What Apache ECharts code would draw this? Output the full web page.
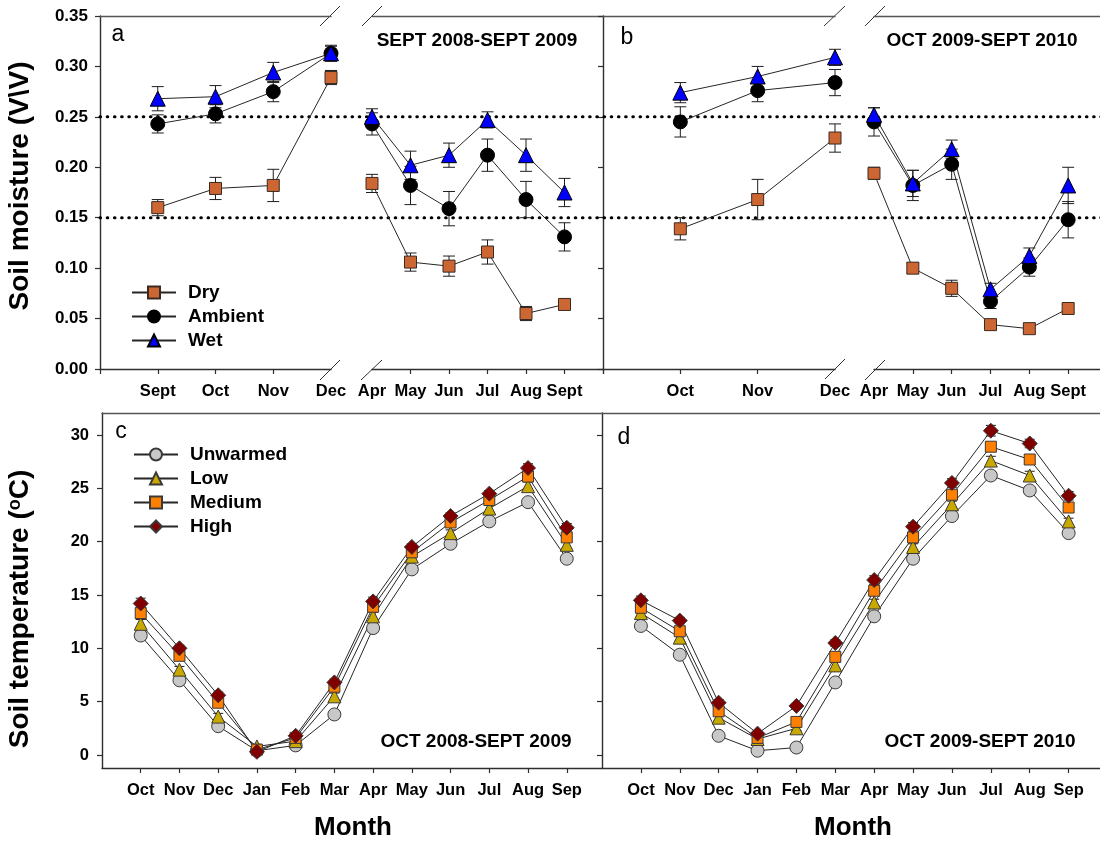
<!DOCTYPE html>
<html>
<head>
<meta charset="utf-8">
<script src="https://cdn.jsdelivr.net/npm/echarts@6.0.0/dist/echarts.min.js"></script>
<style>
  html, body { margin: 0; padding: 0; background: #fff; }
  #chart { width: 1100px; height: 841px; }
</style>
</head>
<body>
<div id="chart"></div>
<script>
// ---------- Soil moisture (V/V), mean and SE ----------
// Panel a, autumn 2008 (left of the winter break) and spring/summer 2009
const moistMonthsA1 = ['Sept', 'Oct', 'Nov', 'Dec'];
const moistMonthsA2 = ['Apr', 'May', 'Jun', 'Jul', 'Aug', 'Sept'];
const dryA1 = [0.160, 0.179, 0.182, 0.289];
const dryA1Se = [0.008, 0.011, 0.016, 0.007];
const ambA1 = [0.243, 0.253, 0.275, 0.313];
const ambA1Se = [0.009, 0.009, 0.010, 0.008];
const wetA1 = [0.268, 0.270, 0.294, 0.313];
const wetA1Se = [0.012, 0.011, 0.010, 0.007];
const dryA2 = [0.184, 0.106, 0.102, 0.116, 0.055, 0.064];
const dryA2Se = [0.009, 0.009, 0.010, 0.012, 0.007, 0.005];
const ambA2 = [0.243, 0.182, 0.159, 0.212, 0.168, 0.131];
const ambA2Se = [0.011, 0.019, 0.017, 0.016, 0.018, 0.014];
const wetA2 = [0.250, 0.202, 0.212, 0.247, 0.212, 0.175];
const wetA2Se = [0.008, 0.014, 0.012, 0.008, 0.016, 0.014];

// Panel b, autumn 2009 and spring/summer 2010
const moistMonthsB1 = ['Oct', 'Nov', 'Dec'];
const moistMonthsB2 = ['Apr', 'May', 'Jun', 'Jul', 'Aug', 'Sept'];
const dryB1 = [0.139, 0.168, 0.229];
const dryB1Se = [0.011, 0.020, 0.014];
const ambB1 = [0.245, 0.276, 0.284];
const ambB1Se = [0.015, 0.011, 0.013];
const wetB1 = [0.274, 0.290, 0.309];
const wetB1Se = [0.010, 0.010, 0.008];
const dryB2 = [0.194, 0.100, 0.080, 0.044, 0.040, 0.060];
const dryB2Se = [0.006, 0.005, 0.008, 0.004, 0.003, 0.004];
const ambB2 = [0.245, 0.182, 0.203, 0.067, 0.101, 0.148];
const ambB2Se = [0.014, 0.015, 0.015, 0.007, 0.009, 0.018];
const wetB2 = [0.252, 0.184, 0.218, 0.079, 0.112, 0.182];
const wetB2Se = [0.007, 0.013, 0.009, 0.006, 0.008, 0.018];

// Dotted reference levels for moisture
const moistRefLevels = [0.25, 0.15];

// ---------- Soil temperature (°C), mean and SE ----------
const tempMonths = ['Oct', 'Nov', 'Dec', 'Jan', 'Feb', 'Mar', 'Apr', 'May', 'Jun', 'Jul', 'Aug', 'Sep'];
const tempTicks = [0, 5, 10, 15, 20, 25, 30];
// Panel c, Oct 2008 - Sept 2009
const unwC = [11.2, 7.0, 2.7, 0.4, 0.9, 3.8, 11.9, 17.4, 19.8, 21.9, 23.7, 18.4];
const lowC = [12.3, 8.0, 3.6, 0.8, 1.3, 5.5, 13.0, 18.6, 20.8, 23.1, 25.2, 19.7];
const medC = [13.3, 9.3, 4.9, 0.5, 1.6, 6.4, 13.9, 19.0, 21.8, 23.9, 26.1, 20.4];
const highC = [14.2, 10.0, 5.6, 0.3, 1.8, 6.8, 14.4, 19.5, 22.4, 24.5, 26.9, 21.3];
const unwCSe = [0.4, 0.3, 0.3, 0.2, 0.2, 0.3, 0.4, 0.3, 0.3, 0.3, 0.3, 0.3];
const lowCSe = [0.4, 0.3, 0.3, 0.2, 0.2, 0.3, 0.4, 0.3, 0.3, 0.3, 0.4, 0.3];
const medCSe = [0.5, 0.3, 0.3, 0.2, 0.2, 0.3, 0.4, 0.3, 0.3, 0.3, 0.4, 0.4];
const highCSe = [0.5, 0.3, 0.3, 0.2, 0.2, 0.3, 0.4, 0.3, 0.3, 0.3, 0.4, 0.4];
// Panel d, Oct 2009 - Sept 2010
const unwD = [12.1, 9.4, 1.8, 0.4, 0.7, 6.8, 13.0, 18.4, 22.4, 26.2, 24.8, 20.8];
const lowD = [13.3, 11.0, 3.5, 1.5, 2.5, 8.4, 14.3, 19.5, 23.5, 27.6, 26.2, 21.9];
const medD = [13.8, 11.6, 4.1, 1.6, 3.1, 9.2, 15.4, 20.4, 24.4, 28.9, 27.7, 23.2];
const highD = [14.5, 12.6, 4.9, 2.0, 4.6, 10.5, 16.4, 21.4, 25.5, 30.4, 29.2, 24.3];
const unwDSe = [0.3, 0.3, 0.3, 0.2, 0.2, 0.3, 0.3, 0.3, 0.3, 0.4, 0.3, 0.3];
const lowDSe = [0.3, 0.3, 0.3, 0.2, 0.2, 0.3, 0.3, 0.3, 0.3, 0.4, 0.4, 0.3];
const medDSe = [0.3, 0.3, 0.3, 0.2, 0.2, 0.3, 0.3, 0.3, 0.4, 0.4, 0.4, 0.4];
const highDSe = [0.4, 0.3, 0.3, 0.2, 0.2, 0.3, 0.4, 0.4, 0.4, 0.5, 0.4, 0.4];

// ---------- styling ----------
const FONT = '"Liberation Sans", Arial, Helvetica, sans-serif';
const AX = '#2e2e2e';
const SYM = {
  Dry:      { symbol: 'rect',     size: 12, color: '#CC6633', border: '#3a2a20' },
  Ambient:  { symbol: 'circle',   size: 14, color: '#000000', border: '#000000' },
  Wet:      { symbol: 'triangle', size: 15, color: '#0000FF', border: '#000000' },
  Unwarmed: { symbol: 'circle',   size: 13, color: '#C8C8C8', border: '#3a3a3a' },
  Low:      { symbol: 'triangle', size: 13, color: '#C9A800', border: '#3a3a3a' },
  Medium:   { symbol: 'rect',     size: 11, color: '#FF8000', border: '#3a3a3a' },
  High:     { symbol: 'diamond',  size: 15, color: '#800000', border: '#3a3a3a' }
};

const toPoints = (vals, off) => vals.map((v, i) => [i + off, v]);
const toBars = (vals, se, off) => vals.map((v, i) => [i + off, v - se[i], v + se[i]]);

function lineSeries(name, vals, off, xi, yi) {
  const s = SYM[name];
  return {
    type: 'line', name, data: toPoints(vals, off), xAxisIndex: xi, yAxisIndex: yi,
    clip: false, z: 3, symbol: s.symbol, symbolSize: s.size, showSymbol: true,
    lineStyle: { color: '#262626', width: 1 },
    itemStyle: { color: s.color, borderColor: s.border, borderWidth: 1 },
    emphasis: { disabled: true }, animation: false
  };
}

function errSeries(vals, se, off, xi, yi, cap) {
  return {
    type: 'custom', data: toBars(vals, se, off), xAxisIndex: xi, yAxisIndex: yi,
    z: 2, silent: true, clip: false, animation: false,
    encode: { x: 0, y: [1, 2] },
    renderItem(params, api) {
      const x = api.value(0);
      const top = api.coord([x, api.value(2)]);
      const bot = api.coord([x, api.value(1)]);
      const st = { stroke: '#1e1e1e', lineWidth: 1 };
      return {
        type: 'group', children: [
          { type: 'line', shape: { x1: top[0], y1: top[1], x2: bot[0], y2: bot[1] }, style: st },
          { type: 'line', shape: { x1: top[0] - cap, y1: top[1], x2: top[0] + cap, y2: top[1] }, style: st },
          { type: 'line', shape: { x1: bot[0] - cap, y1: bot[1], x2: bot[0] + cap, y2: bot[1] }, style: st }
        ]
      };
    }
  };
}

const tickLabelStyle = { color: '#000', fontFamily: FONT, fontWeight: 'bold', fontSize: 16.5 };

function bottomX(grid, max, names, off, tickVals) {
  const labelVals = names.map((_, i) => i + off);
  return {
    type: 'value', gridIndex: grid, position: 'bottom', min: 0, max,
    axisLine: { show: true, onZero: false, lineStyle: { color: AX, width: 1.4 } },
    axisTick: { show: true, inside: false, length: 5, customValues: tickVals, lineStyle: { color: AX, width: 1.2 } },
    axisLabel: Object.assign({ show: true, customValues: labelVals, margin: 14, showMinLabel: true, showMaxLabel: true,
      hideOverlap: false, formatter: v => names[Math.round(v) - off] || '' }, tickLabelStyle),
    splitLine: { show: false }
  };
}
function topX(grid, max) {
  return {
    type: 'value', gridIndex: grid, position: 'top', min: 0, max,
    axisLine: { show: true, onZero: false, lineStyle: { color: '#555', width: 1.4 } },
    axisTick: { show: false }, axisLabel: { show: false }, splitLine: { show: false }
  };
}
function hiddenAxis(grid, min, max) {
  return { type: 'value', gridIndex: grid, min, max, show: false, splitLine: { show: false } };
}

const option = {
  animation: false,
  backgroundColor: '#ffffff',
  grid: [
    { left: 100, top: 16, width: 231, height: 353, outerBoundsMode: 'none', containLabel: false },  // a, autumn
    { left: 372, top: 16, width: 231, height: 353, outerBoundsMode: 'none', containLabel: false },  // a, growing season
    { left: 603, top: 16, width: 232, height: 353, outerBoundsMode: 'none', containLabel: false },  // b, autumn
    { left: 874, top: 16, width: 233, height: 353, outerBoundsMode: 'none', containLabel: false },  // b, growing season
    { left: 100, top: 16, width: 1010, height: 353, outerBoundsMode: 'none', containLabel: false }, // dotted levels
    { left: 102, top: 413, width: 500, height: 355, outerBoundsMode: 'none', containLabel: false }, // c
    { left: 602, top: 413, width: 502, height: 355, outerBoundsMode: 'none', containLabel: false }  // d
  ],
  xAxis: [
    bottomX(0, 4, moistMonthsA1, 1, [0, 1, 2, 3]),          // 0
    topX(0, 4),                                               // 1
    bottomX(1, 6, moistMonthsA2, 0, [1, 2, 3, 4, 5, 6]),     // 2
    topX(1, 6),                                               // 3
    bottomX(2, 3, moistMonthsB1, 1, [0, 1, 2]),              // 4
    topX(2, 3),                                               // 5
    bottomX(3, 6, moistMonthsB2, 0, [1, 2, 3, 4, 5, 6]),     // 6
    topX(3, 6),                                               // 7
    hiddenAxis(4, 0, 1),                                      // 8
    bottomX(5, 12.91, tempMonths, 1, tempMonths.map((_, i) => i + 1)), // 9
    topX(5, 12.91),                                           // 10
    bottomX(6, 12.91, tempMonths, 1, tempMonths.map((_, i) => i + 1)), // 11
    topX(6, 12.91)                                            // 12
  ],
  yAxis: [
    { // 0: moisture, left
      type: 'value', gridIndex: 0, position: 'left', min: 0, max: 0.35, interval: 0.05,
      axisLine: { show: true, onZero: false, lineStyle: { color: AX, width: 1.4 } },
      axisTick: { show: true, inside: false, length: 5, lineStyle: { color: AX, width: 1.2 } },
      axisLabel: Object.assign({ margin: 12, formatter: v => v.toFixed(2) }, tickLabelStyle, { fontSize: 17 }),
      splitLine: { show: false }
    },
    { // 1: moisture, shared divider between a and b
      type: 'value', gridIndex: 1, position: 'right', min: 0, max: 0.35, interval: 0.05,
      axisLine: { show: true, onZero: false, lineStyle: { color: AX, width: 1.4 } },
      axisTick: { show: true, inside: true, length: 5, lineStyle: { color: AX, width: 1.2 } },
      axisLabel: { show: false }, splitLine: { show: false }
    },
    hiddenAxis(2, 0, 0.35),  // 2
    hiddenAxis(3, 0, 0.35),  // 3
    hiddenAxis(4, 0, 0.35),  // 4
    { // 5: temperature, left
      type: 'value', gridIndex: 5, position: 'left', min: -1.22, max: 32.06,
      axisLine: { show: true, onZero: false, lineStyle: { color: AX, width: 1.4 } },
      axisTick: { show: true, inside: false, length: 5, customValues: tempTicks, lineStyle: { color: AX, width: 1.2 } },
      axisLabel: Object.assign({ margin: 13, customValues: tempTicks, formatter: v => String(v) }, tickLabelStyle),
      splitLine: { show: false }
    },
    { // 6: temperature, divider between c and d
      type: 'value', gridIndex: 5, position: 'right', min: -1.22, max: 32.06,
      axisLine: { show: true, onZero: false, lineStyle: { color: AX, width: 1.4 } },
      axisTick: { show: true, inside: true, length: 5, customValues: tempTicks, lineStyle: { color: AX, width: 1.2 } },
      axisLabel: { show: false }, splitLine: { show: false }
    },
    hiddenAxis(6, -1.22, 32.06) // 7
  ],
  legend: [
    {
      data: ['Dry', 'Ambient', 'Wet'], orient: 'vertical', left: 131, top: 283,
      itemWidth: 44, itemHeight: 15, itemGap: 5, padding: 0, selectedMode: false,
      textStyle: { color: '#000', fontFamily: FONT, fontWeight: 'bold', fontSize: 19, padding: [0, 0, 0, 7] }
    },
    {
      data: ['Unwarmed', 'Low', 'Medium', 'High'], orient: 'vertical', left: 133, top: 445,
      itemWidth: 44, itemHeight: 15, itemGap: 5, padding: 0, selectedMode: false,
      textStyle: { color: '#000', fontFamily: FONT, fontWeight: 'bold', fontSize: 19, padding: [0, 0, 0, 7] }
    }
  ],
  series: [],
  graphic: { elements: [] }
};

// Dotted reference levels across both moisture panels
moistRefLevels.forEach(lvl => {
  option.series.push({
    type: 'line', data: [[0, lvl], [1, lvl]], xAxisIndex: 8, yAxisIndex: 4, z: 1,
    symbol: 'none', silent: true, clip: false, animation: false,
    lineStyle: { color: '#000', width: 3, type: [0.6, 6.6], cap: 'round' }
  });
});

// Moisture segments: [x axis, y axis, first index, dry, dry SE, ambient, ambient SE, wet, wet SE]
const moistSegments = [
  [0, 0, 1, dryA1, dryA1Se, ambA1, ambA1Se, wetA1, wetA1Se],
  [2, 1, 0, dryA2, dryA2Se, ambA2, ambA2Se, wetA2, wetA2Se],
  [4, 2, 1, dryB1, dryB1Se, ambB1, ambB1Se, wetB1, wetB1Se],
  [6, 3, 0, dryB2, dryB2Se, ambB2, ambB2Se, wetB2, wetB2Se]
];
moistSegments.forEach(([xi, yi, off, d, dse, a, ase, w, wse]) => {
  option.series.push(errSeries(d, dse, off, xi, yi, 6));
  option.series.push(errSeries(a, ase, off, xi, yi, 6));
  option.series.push(errSeries(w, wse, off, xi, yi, 6));
  option.series.push(lineSeries('Dry', d, off, xi, yi));
  option.series.push(lineSeries('Ambient', a, off, xi, yi));
  option.series.push(lineSeries('Wet', w, off, xi, yi));
});

// Temperature panels
const tempPanels = [
  [9, 5, [['Unwarmed', unwC, unwCSe], ['Low', lowC, lowCSe], ['Medium', medC, medCSe], ['High', highC, highCSe]]],
  [11, 7, [['Unwarmed', unwD, unwDSe], ['Low', lowD, lowDSe], ['Medium', medD, medDSe], ['High', highD, highDSe]]]
];
tempPanels.forEach(([xi, yi, groups]) => {
  groups.forEach(([, v, se]) => option.series.push(errSeries(v, se, 1, xi, yi, 5)));
  groups.forEach(([name, v]) => option.series.push(lineSeries(name, v, 1, xi, yi)));
});

// Text, panel letters and axis-break marks
const txt = (text, x, y, size, weight, extra) => Object.assign({
  type: 'text', x, y, silent: true,
  style: { text, fill: '#000', fontFamily: FONT, fontSize: size, fontWeight: weight, align: 'center', verticalAlign: 'middle' }
}, extra || {});
const brk = (x1, y1, x2, y2) => ({ type: 'line', silent: true, shape: { x1, y1, x2, y2 }, style: { stroke: '#333', lineWidth: 1 } });

option.graphic.elements.push(
  txt('a', 118, 35, 23, 'normal'),
  txt('b', 627, 38, 23, 'normal'),
  txt('c', 121, 432, 23, 'normal'),
  txt('d', 624, 438, 23, 'normal'),
  txt('SEPT 2008-SEPT 2009', 477, 41, 19, 'bold'),
  txt('OCT 2009-SEPT 2010', 982, 41, 19, 'bold'),
  txt('OCT 2008-SEPT 2009', 476, 742, 19, 'bold'),
  txt('OCT 2009-SEPT 2010', 980, 742, 19, 'bold'),
  txt('Month', 353, 828, 26, 'bold'),
  txt('Month', 853, 828, 26, 'bold'),
  txt('Soil moisture (V\\V)', 20, 186, 28, 'bold', { rotation: Math.PI / 2 }),
  {
    type: 'text', x: 20, y: 609, rotation: Math.PI / 2, silent: true,
    style: {
      text: '{n|Soil temperature (}{s|o}{n|C)}', align: 'center', verticalAlign: 'middle',
      rich: {
        n: { fill: '#000', fontFamily: FONT, fontSize: 28, fontWeight: 'bold' },
        s: { fill: '#000', fontFamily: FONT, fontSize: 18, fontWeight: 'bold', verticalAlign: 'top' }
      }
    }
  },
  brk(320, 26, 340, 6), brk(362, 26, 382, 6),
  brk(320, 380, 340, 360), brk(361, 380, 382, 360),
  brk(824, 26, 845, 6), brk(865, 26, 885, 6),
  brk(825, 379, 845, 359), brk(865, 380, 885, 360)
);

const chart = echarts.init(document.getElementById('chart'), null, { renderer: 'canvas', width: 1100, height: 841 });
chart.setOption(option);
</script>
</body>
</html>
